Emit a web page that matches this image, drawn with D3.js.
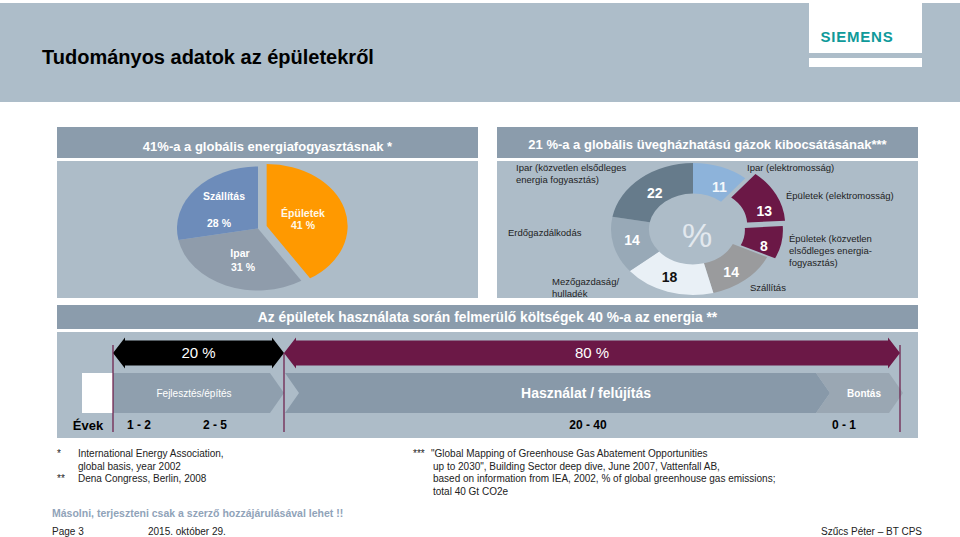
<!DOCTYPE html>
<html><head><meta charset="utf-8">
<script src="https://cdn.jsdelivr.net/npm/d3@7"></script>
<style>body{margin:0;background:#fff}svg{display:block;font-family:"Liberation Sans",Arial,Helvetica,sans-serif}</style>
</head><body><svg id="c" width="960" height="537"></svg>
<script>
// ---------- DATA ----------
const title = "Tudományos adatok az épületekről";
const logoText = "SIEMENS";
const energyTitle = "41%-a a globális energiafogyasztásnak  *";
const energyCategories = ["Épületek", "Ipar", "Szállítás"];
const energyValues = [41, 31, 28];
const ghgTitle = "21 %-a  a globális üvegházhatású gázok kibocsátásának***";
const ghgCategories = [
  ["Ipar (elektromosság)"],
  ["Épületek (elektromosság)"],
  ["Épületek (közvetlen", "elsődleges energia-", "fogyasztás)"],
  ["Szállítás"],
  ["Mezőgazdaság/", "hulladék"],
  ["Erdőgazdálkodás"],
  ["Ipar (közvetlen elsődleges", "energia fogyasztás)"]
];
const ghgValues = [11, 13, 8, 14, 18, 14, 22];
const costTitle = "Az épületek használata során felmerülő költségek 40 %-a az energia **";
const costLabels = ["20 %", "80 %"];
const costShares = [20, 80];
const phases = ["Fejlesztés/építés", "Használat / felújítás", "Bontás"];
const yearsLabel = "Évek";
const years = ["1 - 2", "2 - 5", "20 - 40", "0 - 1"];
const notesLeft = [["*", "International Energy Association,"], ["", "global basis, year 2002"], ["**", "Dena Congress, Berlin, 2008"]];
const notesRight = [["***", "\"Global Mapping of Greenhouse Gas Abatement Opportunities"],
  ["", "up to 2030\", Building Sector deep dive, June 2007, Vattenfall AB,"],
  ["", "based on information from IEA, 2002, % of global greenhouse gas emissions;"],
  ["", "total 40 Gt CO2e"]];
const copyNote = "Másolni, terjeszteni csak a szerző hozzájárulásával lehet !!";
const footer = ["Page 3", "2015. október 29.", "Szűcs Péter – BT CPS"];

// ---------- STYLE / LAYOUT ----------
const C = {header: "#adbdc9", bar: "#8b9cac", body: "#adbcc8", maroon: "#6b1846"};
const energyColors = ["#ff9900", "#8f9cab", "#6d8cba"];
const ghgColors = ["#8db3da", "#6b1846", "#6b1846", "#9a9b9d", "#e9f0f6", "#98a9b7", "#667b8b"];
const ghgValueColors = ["#f4f8fc", "#fff", "#fff", "#fff", "#111", "#fff", "#fff"];
const ghgExplode = [0, 11, 8, 0, 0, 0, 0];
const ghgLabelNudge = [[5, 6], [5, 9], [1, 6], [-2, 4], [-4, 0], [0, -2], [2, 3]];

const svg = d3.select("#c");

// header
svg.append("rect").attr("x", 0).attr("y", 3).attr("width", 960).attr("height", 99).attr("fill", C.header);
svg.append("rect").attr("x", 809).attr("y", 3).attr("width", 113).attr("height", 50).attr("fill", "#fff");
svg.append("rect").attr("x", 809).attr("y", 58).attr("width", 113).attr("height", 9).attr("fill", "#fff");
svg.append("text").attr("x", 857).attr("y", 42).attr("text-anchor", "middle")
  .attr("font-size", 15).attr("font-weight", "bold").attr("letter-spacing", 0.8).attr("fill", "#0f9a9a").text(logoText);
svg.append("text").attr("x", 42).attr("y", 64).attr("font-size", 20).attr("font-weight", "bold")
  .attr("fill", "#000").text(title);

// panels
function panel(x, y, w, barH, bodyH, label, ty, fs) {
  svg.append("rect").attr("x", x).attr("y", y).attr("width", w).attr("height", barH).attr("fill", C.bar);
  svg.append("rect").attr("x", x).attr("y", y + barH + 3).attr("width", w).attr("height", bodyH).attr("fill", C.body);
  svg.append("text").attr("x", x + w / 2).attr("y", ty).attr("text-anchor", "middle")
    .attr("font-size", fs).attr("font-weight", "bold").attr("fill", "#fff").text(label);
}
panel(57, 127, 421, 31, 137, energyTitle, 151, 13);
panel(497, 127, 421, 31, 137, ghgTitle, 149, 13);
panel(57, 305, 861, 24, 106, costTitle, 322, 13.8);

// ---------- LEFT PIE ----------
const pieG = svg.append("g");
const pcx = 258, pcy = 228.5, prx = 81, pry = 62;
const pieData = d3.pie().sort(null).value(d => d)(energyValues);
const pieArc = d3.arc().innerRadius(0).outerRadius(prx);
pieData.forEach((p, i) => {
  const ex = i === 0 ? 9 : 0;
  const m = (p.startAngle + p.endAngle) / 2;
  pieG.append("path")
    .attr("transform", `translate(${pcx + Math.sin(m) * ex},${pcy - Math.cos(m) * ex}) scale(1,${pry / prx})`)
    .attr("d", pieArc(p)).attr("fill", energyColors[i]);
});
const pieLabelPos = [[[303, 213], [303, 225]], [[240, 253], [243, 267]], [[224, 196], [219, 223]]];
energyCategories.forEach((c, i) => {
  const [a, b] = pieLabelPos[i];
  const fill = i === 0 ? "#fff8e8" : "#fff";
  pieG.append("text").attr("x", a[0]).attr("y", a[1]).attr("dy", "0.35em").attr("text-anchor", "middle")
    .attr("font-size", 10.5).attr("font-weight", "bold").attr("fill", fill).text(c);
  pieG.append("text").attr("x", b[0]).attr("y", b[1]).attr("dy", "0.35em").attr("text-anchor", "middle")
    .attr("font-size", 10.5).attr("font-weight", "bold").attr("fill", fill).text(energyValues[i] + " %");
});

// ---------- RIGHT DONUT ----------
const dG = svg.append("g");
const dcx = 693, dcy = 229, drx = 82, dry = 66, dir = 44;
const ky = dry / drx;
const donut = d3.pie().sort(null).value(d => d)(ghgValues);
const dArc = d3.arc().innerRadius(dir).outerRadius(drx);
donut.forEach((p, i) => {
  const m = (p.startAngle + p.endAngle) / 2;
  const vx = Math.sin(m) * drx, vy = -Math.cos(m) * dry, n = Math.hypot(vx, vy);
  const ox = dcx + vx / n * ghgExplode[i], oy = dcy + vy / n * ghgExplode[i];
  const g = dG.append("g").attr("transform", `translate(${ox},${oy})`);
  g.append("path").attr("transform", `scale(1,${ky})`).attr("d", dArc(p)).attr("fill", ghgColors[i]);
  const [cx, cy] = dArc.centroid(p);
  g.append("text").attr("x", cx + ghgLabelNudge[i][0]).attr("y", cy * ky + ghgLabelNudge[i][1]).attr("dy", "0.36em")
    .attr("text-anchor", "middle")
    .attr("font-size", 14).attr("font-weight", "bold").attr("fill", ghgValueColors[i]).text(ghgValues[i]);
});
dG.append("text").attr("x", 697).attr("y", 235).attr("dy", "0.36em").attr("text-anchor", "middle")
  .attr("font-size", 34).attr("fill", "#e2e8ee").text("%");
const ghgLabelPos = [[747, 171], [786, 199], [789, 242], [750, 291], [552, 285], [508, 236], [516, 171]];
ghgCategories.forEach((lines, i) => {
  const t = dG.append("text").attr("font-size", 9.5).attr("fill", "#1e1e1e");
  lines.forEach((l, j) => t.append("tspan").attr("x", ghgLabelPos[i][0]).attr("y", ghgLabelPos[i][1] + j * 12).text(l));
});

// ---------- COST / LIFECYCLE ----------
const mG = svg.append("g");
const xCost = d3.scaleLinear().domain([0, 20, 100]).range([113, 284, 900]);
function dblArrow(x0, x1, cy, bh, hh, hl) {
  return `M${x0},${cy}L${x0 + hl},${cy - hh}L${x0 + hl},${cy - bh}L${x1 - hl},${cy - bh}L${x1 - hl},${cy - hh}L${x1},${cy}` +
    `L${x1 - hl},${cy + hh}L${x1 - hl},${cy + bh}L${x0 + hl},${cy + bh}L${x0 + hl},${cy + hh}Z`;
}
let cum = 0;
const arrowColors = ["#000", C.maroon];
costShares.forEach((s, i) => {
  const x0 = xCost(cum), x1 = xCost(cum + s);
  mG.append("path").attr("d", dblArrow(x0, x1, 353, 12.5, 15.5, 12)).attr("fill", arrowColors[i]);
  mG.append("text").attr("x", (x0 + x1) / 2).attr("y", 353).attr("dy", "0.36em").attr("text-anchor", "middle")
    .attr("font-size", 15).attr("fill", "#fff").text(costLabels[i]);
  cum += s;
});
// white block
mG.append("rect").attr("x", 82).attr("y", 373).attr("width", 31).attr("height", 40).attr("fill", "#fff");
// chevrons
function chevron(x0, x1, y0, h, tip, notch) {
  return `M${x0},${y0}L${x1 - tip},${y0}L${x1},${y0 + h / 2}L${x1 - tip},${y0 + h}L${x0},${y0 + h}` +
    (notch ? `L${x0 + notch},${y0 + h / 2}` : "") + "Z";
}
const phaseLayout = [
  {x0: 113, x1: 284, notch: 0, fill: "#8f9fae", size: 10, weight: "normal", cx: 194},
  {x0: 285, x1: 830, notch: 14, fill: "#8899a9", size: 14, weight: "bold", cx: 586},
  {x0: 816, x1: 903, notch: 14, fill: "#9aa7b3", size: 10, weight: "bold", cx: 864}
];
phases.forEach((ph, i) => {
  const L = phaseLayout[i];
  mG.append("path").attr("d", chevron(L.x0, L.x1, 373, 40, 14, L.notch)).attr("fill", L.fill);
});
phases.forEach((ph, i) => {
  const L = phaseLayout[i];
  mG.append("text").attr("x", L.cx).attr("y", 393).attr("dy", "0.36em").attr("text-anchor", "middle")
    .attr("font-size", L.size).attr("font-weight", L.weight).attr("fill", "#fff").text(ph);
});
// vertical lines
[0, 20, 100].forEach((v, i) => {
  mG.append("line").attr("x1", xCost(v)).attr("x2", xCost(v)).attr("y1", i === 1 ? 353 : 345).attr("y2", 432)
    .attr("stroke", C.maroon).attr("stroke-width", 1.2);
});
// years
mG.append("text").attr("x", 88).attr("y", 425).attr("dy", "0.36em").attr("text-anchor", "middle")
  .attr("font-size", 13).attr("font-weight", "bold").attr("fill", "#000").text(yearsLabel);
const yearX = [139, 215, 588, 844];
years.forEach((y, i) => {
  mG.append("text").attr("x", yearX[i]).attr("y", 425).attr("dy", "0.36em").attr("text-anchor", "middle")
    .attr("font-size", 12).attr("font-weight", "bold").attr("fill", "#000").text(y);
});

// ---------- NOTES ----------
const nG = svg.append("g").attr("font-size", 10).attr("fill", "#222");
notesLeft.forEach((n, i) => {
  nG.append("text").attr("x", 57).attr("y", 457 + i * 12.5).text(n[0]);
  nG.append("text").attr("x", 78).attr("y", 457 + i * 12.5).text(n[1]);
});
notesRight.forEach((n, i) => {
  nG.append("text").attr("x", 413).attr("y", 457 + i * 12.5).text(n[0]);
  nG.append("text").attr("x", i === 0 ? 431 : 433).attr("y", 457 + i * 12.5).text(n[1]);
});
svg.append("text").attr("x", 52).attr("y", 517).attr("font-size", 10.5).attr("font-weight", "bold")
  .attr("fill", "#90a3b9").text(copyNote);
svg.append("text").attr("x", 52).attr("y", 535).attr("font-size", 10).attr("fill", "#222").text(footer[0]);
svg.append("text").attr("x", 148).attr("y", 535).attr("font-size", 10).attr("fill", "#222").text(footer[1]);
svg.append("text").attr("x", 922).attr("y", 535).attr("text-anchor", "end").attr("font-size", 10).attr("fill", "#222").text(footer[2]);
</script></body></html>
